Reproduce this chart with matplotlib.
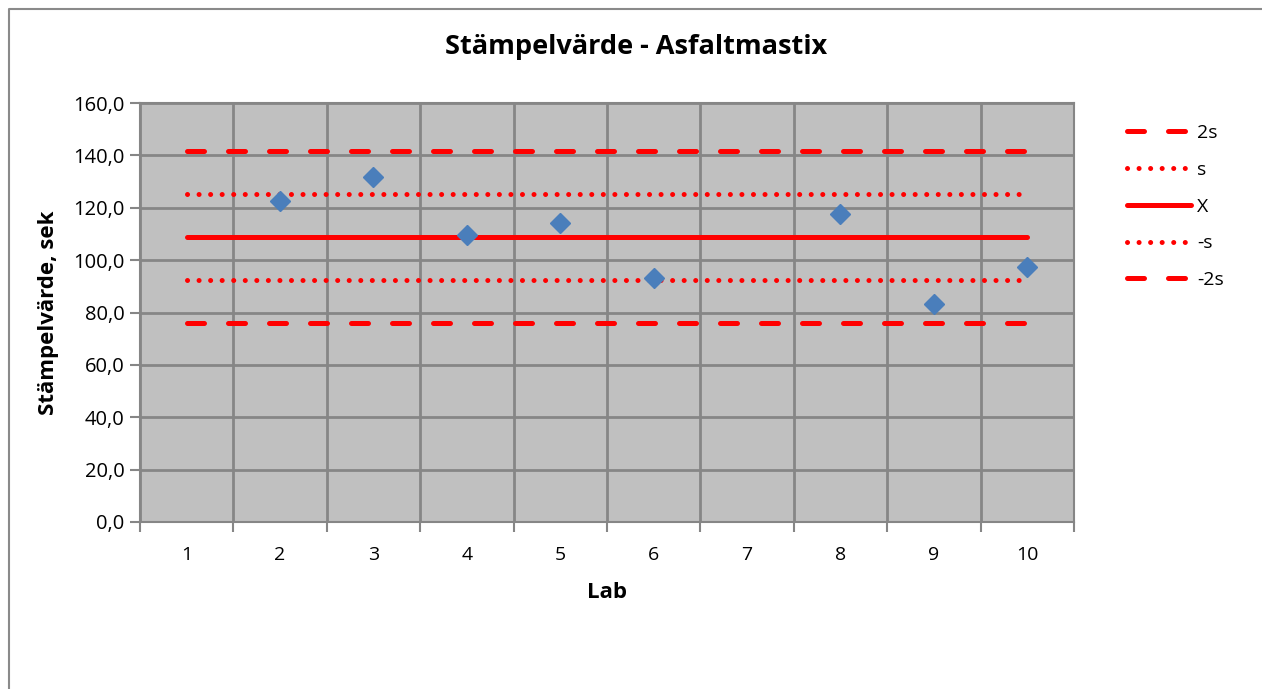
import numpy as np
import matplotlib.pyplot as plt
from matplotlib.lines import Line2D

plt.rcParams['font.family'] = ['Open Sans', 'DejaVu Sans']

# data
labs = [1, 2, 3, 4, 5, 6, 7, 8, 9, 10]
values = [np.nan, 122.7, 131.8, 109.5, 114.0, 93.0, np.nan, 117.8, 83.3, 97.3]
mean_x = 108.8
plus_2s = 141.7
plus_s = 125.3
minus_s = 92.4
minus_2s = 76.0

fig = plt.figure(figsize=(12.62, 6.89), dpi=100)
fig.patch.set_facecolor('white')

# chart area border (only top and left are visible in the crop)
bx = 8.5 / 1262
by = 1 - 8.5 / 689
fig.add_artist(Line2D([bx, bx, 1.0], [0.0, by, by], transform=fig.transFigure,
                      color='#8a8a8a', linewidth=1.5))

ax = fig.add_axes([140 / 1262, 1 - 522 / 689, (1074 - 140) / 1262, (522 - 103) / 689])
ax.set_facecolor('#C0C0C0')

red = '#FF0000'
lw = 3.6
line_specs = [
    (plus_2s, '2s', (3.4, 4.8)),
    (plus_s, 's', (0.01, 2.3)),
    (mean_x, 'X', None),
    (minus_s, '-s', (0.01, 2.3)),
    (minus_2s, '-2s', (3.4, 4.8)),
]
for val, lab, dash in line_specs:
    yy = [val] * len(labs)
    if dash is None:
        ax.plot(labs, yy, color=red, lw=lw, solid_capstyle='round', label=lab)
    else:
        ax.plot(labs, yy, color=red, lw=lw, dashes=dash,
                dash_capstyle='round', label=lab)

ax.plot(labs, values, linestyle='none', marker='D', ms=10.5,
        color='#4A7EBB', markeredgecolor='#4A7EBB', zorder=5)

ax.set_xlim(0.5, 10.5)
ax.set_ylim(0, 160)
ax.set_yticks(np.arange(0, 161, 20))
ax.set_yticklabels([f"{v:.1f}".replace('.', ',') for v in np.arange(0, 161, 20)])
ax.set_xticks(labs)
ax.set_xticklabels([str(l) for l in labs])
ax.set_xticks(np.arange(0.5, 10.6, 1), minor=True)

ax.grid(True, which='major', axis='y', color='#868686', lw=2)
ax.grid(True, which='minor', axis='x', color='#868686', lw=2)
ax.set_axisbelow(True)
ax.tick_params(axis='x', which='major', length=0, labelsize=14, pad=17)
ax.tick_params(axis='x', which='minor', length=7, width=1.5, color='#868686', direction='out')
ax.tick_params(axis='y', length=7, width=1.5, color='#868686', labelsize=14.5, pad=4)
for s in ax.spines.values():
    s.set_color('#868686')
    s.set_linewidth(1.5)

ax.set_xlabel('Lab', fontsize=16, fontweight='bold', labelpad=13)
ax.set_ylabel('Stämpelvärde, sek', fontsize=16, fontweight='bold', labelpad=10)
fig.text(636 / 1262, 1 - 47 / 689, 'Stämpelvärde - Asfaltmastix',
         fontsize=19.5, fontweight='bold', ha='center', va='center')

leg = ax.legend(loc='upper left', bbox_to_anchor=(1.038, 0.992), frameon=False,
                fontsize=14, handlelength=3.3, labelspacing=0.97,
                handletextpad=0.3, borderaxespad=0.5)

fig.savefig('out.png', dpi=100)
